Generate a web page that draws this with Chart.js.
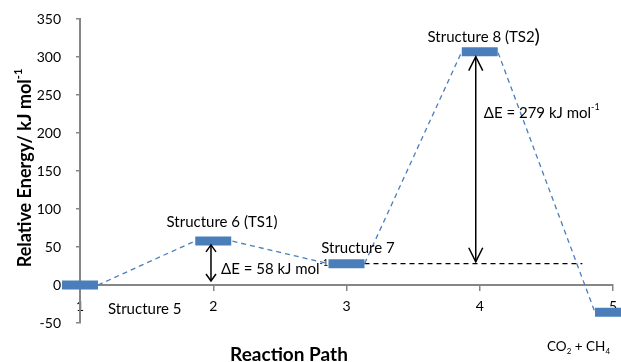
<!DOCTYPE html>
<html>
<head>
<meta charset="utf-8">
<script src="https://cdn.jsdelivr.net/npm/chart.js@4.4.0/dist/chart.umd.min.js"></script>
<style>
    html, body { margin: 0; padding: 0; background: #ffffff; }
    #wrap { width: 621px; height: 362px; }
</style>
</head>
<body>
<div id="wrap"><canvas id="energyChart"></canvas></div>
<script>
// reaction path steps and relative energies (kJ/mol)
const steps = [1, 2, 3, 4, 5];
const structures = ['Structure 5', 'Structure 6 (TS1)', 'Structure 7', 'Structure 8 (TS2)', 'CO2 + CH4'];
const energies = [0, 58, 28, 307, -36];
const yTicks = [-50, 0, 50, 100, 150, 200, 250, 300, 350];
const barriers = [58, 279];

const BLUE = '#4a7ebb';
const AXIS = '#868686';
const FONT = "Lato, 'Open Sans', sans-serif";
const halfWidth = 0.135;

const levelSets = steps.map((s, i) => ({
    label: structures[i],
    data: [{ x: s - halfWidth, y: energies[i] }, { x: s + halfWidth, y: energies[i] }],
    borderColor: BLUE,
    borderWidth: 9,
    pointRadius: 0,
    clip: false,
    order: 0
}));

const pathPoints = [];
steps.forEach((s, i) => {
    if (i > 0) pathPoints.push({ x: s - halfWidth, y: energies[i] });
    if (i < steps.length - 1) pathPoints.push({ x: s + halfWidth, y: energies[i] });
});

const pathSet = {
    label: 'path',
    data: pathPoints,
    borderColor: BLUE,
    borderWidth: 1.3,
    borderDash: [5, 4],
    pointRadius: 0,
    clip: false,
    order: 1
};

const refSet = {
    label: 'reference',
    data: [{ x: steps[2] + halfWidth, y: energies[2] }, { x: 4.77, y: energies[2] }],
    borderColor: '#000000',
    borderWidth: 1.3,
    borderDash: [5, 4],
    pointRadius: 0,
    clip: false,
    order: 1
};

// text with sub/superscripts: parts = [[text, 'sup'|'sub'|'big'|'']]
function drawRich(ctx, parts, x, y, size, align, bold) {
    const w = bold ? 'bold ' : '';
    const fontFor = k => {
        if (k === 'sup' || k === 'sub') return w + Math.round(size * 0.62) + 'px ' + FONT;
        if (k === 'big') return w + Math.round(size * 1.3) + 'px ' + FONT;
        return w + size + 'px ' + FONT;
    };
    let total = 0;
    parts.forEach(p => {
        ctx.font = fontFor(p[1]);
        total += ctx.measureText(p[0]).width;
    });
    let cx = align === 'center' ? x - total / 2 : x;
    ctx.textAlign = 'left';
    ctx.textBaseline = 'middle';
    parts.forEach(p => {
        ctx.font = fontFor(p[1]);
        let dy = 0;
        if (p[1] === 'sup') dy = -size * 0.38;
        if (p[1] === 'sub') dy = size * 0.3;
        if (p[1] === 'big') dy = -size * 0.05;
        ctx.fillText(p[0], cx, y + dy);
        cx += ctx.measureText(p[0]).width;
    });
}

function drawArrow(ctx, x, yFrom, yTo, both, head, wing) {
    ctx.beginPath();
    ctx.moveTo(x, yFrom);
    ctx.lineTo(x, yTo);
    ctx.stroke();
    const heads = both ? [[yTo, Math.sign(yTo - yFrom)], [yFrom, Math.sign(yFrom - yTo)]] : [[yTo, Math.sign(yTo - yFrom)]];
    heads.forEach(([ty, dir]) => {
        ctx.beginPath();
        ctx.moveTo(x - wing, ty - dir * head);
        ctx.lineTo(x, ty);
        ctx.lineTo(x + wing, ty - dir * head);
        ctx.stroke();
    });
}

const annotations = {
    id: 'annotations',
    afterDatasetsDraw(chart) {
        const { ctx, scales: { x, y } } = chart;
        ctx.save();
        ctx.fillStyle = '#000000';
        ctx.strokeStyle = '#000000';
        ctx.lineWidth = 1.5;

        // barrier arrows
        drawArrow(ctx, x.getPixelForValue(1.983), y.getPixelForValue(energies[0]) - 4, y.getPixelForValue(energies[1]) + 4, true, 7, 5);
        drawArrow(ctx, x.getPixelForValue(3.97), y.getPixelForValue(energies[2]) - 2, y.getPixelForValue(energies[3]) + 5, true, 14, 7);

        // structure labels
        drawRich(ctx, [[structures[0], '']], x.getPixelForValue(1.21), y.getPixelForValue(-31.6), 15, 'left');
        drawRich(ctx, [[structures[1], '']], x.getPixelForValue(2.066), y.getPixelForValue(82.9), 15, 'center');
        drawRich(ctx, [[structures[2], '']], x.getPixelForValue(3.086), y.getPixelForValue(48.7), 15, 'center');
        drawRich(ctx, [['Structure 8 (TS2', ''], [')', 'big']], x.getPixelForValue(4.03), y.getPixelForValue(326), 15, 'center');
        drawRich(ctx, [['CO', ''], ['2', 'sub'], [' + CH', ''], ['4', 'sub']], x.getPixelForValue(4.505), y.getPixelForValue(-81.6), 13.5, 'left');

        // barrier labels
        drawRich(ctx, [['ΔE = ' + barriers[0] + ' kJ mol', ''], ['-1', 'sup']], x.getPixelForValue(2.058), y.getPixelForValue(21), 15, 'left');
        drawRich(ctx, [['ΔE = ' + barriers[1] + ' kJ mol', ''], ['-1', 'sup']], x.getPixelForValue(4.03), y.getPixelForValue(226), 15, 'left');

        // axis titles
        drawRich(ctx, [['Reaction Path', '']], 289, 355, 19, 'center', true);
        ctx.translate(25, 168);
        ctx.rotate(-Math.PI / 2);
        drawRich(ctx, [['Relative Energy/ kJ mol', ''], ['-1', 'sup']], 0, 0, 18, 'center', true);
        ctx.restore();
    }
};

new Chart(document.getElementById('energyChart'), {
    type: 'line',
    data: { datasets: [...levelSets, pathSet, refSet] },
    options: {
        responsive: true,
        maintainAspectRatio: false,
        animation: false,
        layout: { padding: { top: 19, right: 8, bottom: 39, left: 0 } },
        plugins: { legend: { display: false }, tooltip: { enabled: false } },
        scales: {
            x: {
                type: 'linear',
                min: 1,
                max: 5,
                position: { y: 0 },
                afterBuildTicks: s => { s.ticks = steps.map(v => ({ value: v })); },
                afterFit: s => { s.paddingLeft = 4; s.paddingRight = 4; },
                ticks: { color: '#000000', font: { family: FONT, size: 14 }, padding: 8, maxRotation: 0 },
                grid: { drawOnChartArea: false, drawTicks: true, tickLength: 5, color: AXIS, lineWidth: 1.5 },
                border: { color: AXIS, width: 2 }
            },
            y: {
                min: -50,
                max: 350,
                afterBuildTicks: s => { s.ticks = yTicks.map(v => ({ value: v })); },
                afterFit: s => { s.width = 80; s.paddingTop = 8; s.paddingBottom = 8; },
                ticks: { color: '#000000', font: { family: FONT, size: 14 }, padding: 15 },
                grid: { drawOnChartArea: false, drawTicks: true, tickLength: 4, color: AXIS, lineWidth: 1.5 },
                border: { color: AXIS, width: 2 }
            }
        }
    },
    plugins: [annotations]
});
</script>
</body>
</html>
